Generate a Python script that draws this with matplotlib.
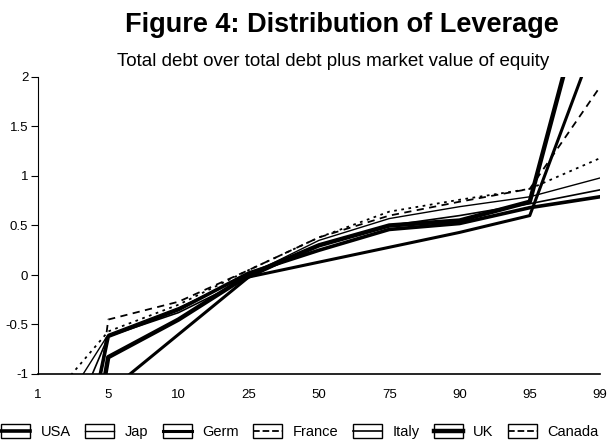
#!/usr/bin/env python3
"""
Figure 4: Distribution of Leverage
Percentiles of total debt / (total debt + market equity) for G7 countries
"""

import matplotlib
matplotlib.use('Agg')
import matplotlib.pyplot as plt
from matplotlib.lines import Line2D
from matplotlib.patches import Rectangle
from matplotlib.legend_handler import HandlerBase

plt.rcParams['font.family'] = 'Liberation Sans'
plt.rcParams['font.size'] = 10

percentiles = ['1', '5', '10', '25', '50', '75', '90', '95', '99']
yticks = [-1, -0.5, 0, 0.5, 1, 1.5, 2]
ytick_labels = ['-1', '-0.5', '0', '0.5', '1', '1.5', '2']

usa = [-4.0, -0.62, -0.35, 0.02, 0.25, 0.46, 0.52, 0.68, 0.79]
jap = [-1.72, -0.60, -0.33, 0.00, 0.35, 0.57, 0.69, 0.79, 0.98]
germ = [-2.0, -1.18, -0.60, -0.02, 0.13, 0.28, 0.43, 0.60, 2.5]
france = [-1.4, -0.57, -0.30, 0.05, 0.38, 0.64, 0.76, 0.87, 1.18]
italy = [-2.3, -0.62, -0.38, -0.03, 0.30, 0.50, 0.60, 0.72, 0.86]
uk = [-5.0, -0.83, -0.45, 0.00, 0.30, 0.50, 0.55, 0.74, 3.4]
canada = [-6.0, -0.45, -0.27, 0.05, 0.38, 0.60, 0.74, 0.87, 1.9]


class BoxHandler(HandlerBase):
    # legend icon: small box with the series line through the middle
    def create_artists(self, legend, orig_handle, xdescent, ydescent,
                       width, height, fontsize, trans):
        box = Rectangle((-xdescent, -ydescent - 1), width, height + 2,
                        facecolor='white', edgecolor='black', lw=1.0,
                        transform=trans)
        y = height / 2 - ydescent
        line = Line2D([-xdescent, -xdescent + width], [y, y], color='black',
                      lw=orig_handle.get_linewidth(),
                      linestyle=orig_handle.get_linestyle(), transform=trans)
        return [box, line]


def create_figure():
    fig = plt.figure(figsize=(6.07, 4.44), dpi=100)
    ax = fig.add_axes([38 / 607, 70 / 444, 562 / 607, 297 / 444])

    x = range(len(percentiles))
    series = [
        ('USA', usa, dict(lw=2.6, ls='-')),
        ('Jap', jap, dict(lw=1.0, ls='-')),
        ('Germ', germ, dict(lw=2.2, ls='-')),
        ('France', france, dict(lw=1.3, ls=(0, (1.5, 2.5)))),
        ('Italy', italy, dict(lw=1.2, ls='-')),
        ('UK', uk, dict(lw=3.2, ls='-')),
        ('Canada', canada, dict(lw=1.3, ls=(0, (4, 3)))),
    ]
    handles = []
    for name, vals, style in series:
        line, = ax.plot(x, vals, color='black', label=name, **style)
        handles.append(line)

    ax.set_xlim(0, 8)
    ax.set_ylim(-1, 2)
    ax.set_xticks(list(x))
    ax.set_xticklabels(percentiles, fontsize=9.5)
    ax.set_yticks(yticks)
    ax.set_yticklabels(ytick_labels, fontsize=9.5)
    ax.tick_params(axis='x', length=0, pad=11)
    ax.tick_params(axis='y', length=5, width=0.8, pad=2)
    for side in ['top', 'right']:
        ax.spines[side].set_visible(False)
    ax.spines['left'].set_linewidth(0.8)
    ax.spines['bottom'].set_linewidth(1.2)

    fig.text(342 / 607, 1 - 25 / 444, 'Figure 4: Distribution of Leverage',
             fontsize=19.5, fontweight='bold', ha='center', va='center')
    fig.text(333 / 607, 1 - 61 / 444,
             'Total debt over total debt plus market value of equity',
             fontsize=13.5, ha='center', va='center')

    fig.legend(handles=handles, labels=[h.get_label() for h in handles],
               handler_map={Line2D: BoxHandler()}, loc='center',
               bbox_to_anchor=(300 / 607, 1 - 432 / 444), ncol=7,
               frameon=False, fontsize=10.5, handlelength=2.0,
               handleheight=0.9, columnspacing=1.0, handletextpad=0.7)
    return fig


def main():
    fig = create_figure()
    fig.savefig('out.png', dpi=100)


if __name__ == '__main__':
    main()
